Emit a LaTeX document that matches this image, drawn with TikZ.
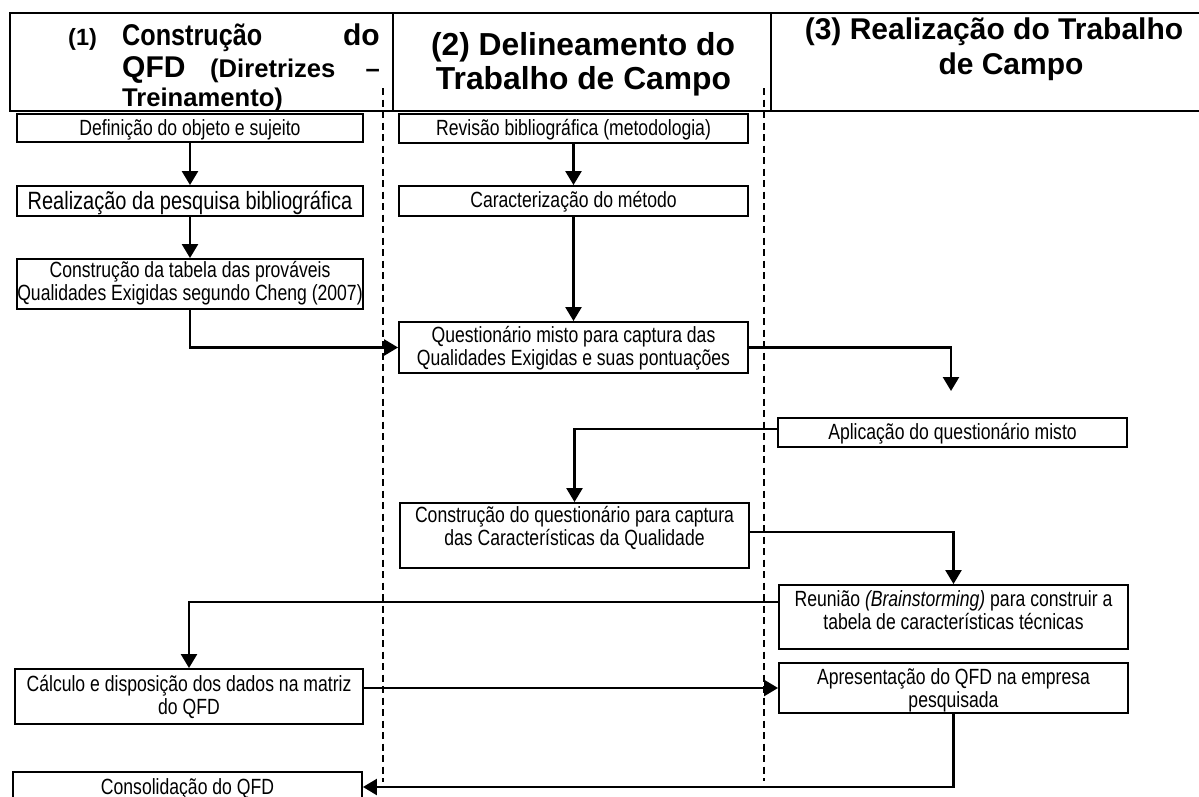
\documentclass[tikz,border=0pt]{standalone}
\usepackage{fontspec}
\setmainfont{Liberation Sans}
\newfontfamily\bodyf[FakeStretch=0.8]{Liberation Sans}
\newfontfamily\headf{Liberation Sans}
\usetikzlibrary{arrows.meta}
\begin{document}
\begin{tikzpicture}[x=1pt,y=-1pt,
  box/.style={draw, line width=1.9pt, inner sep=0pt},
  lbl/.style={anchor=north, inner sep=0pt, align=center, font=\bodyf\fontsize{22pt}{23.5pt}\selectfont},
  arr/.style={line width=2.4pt, -{Triangle[length=14pt,width=16pt]}},
  sepline/.style={line width=1.9pt, dash pattern=on 7pt off 4.5pt},
  hd/.style={inner sep=0pt, font=\headf\bfseries\fontsize{31.8pt}{35pt}\selectfont},
  hdc/.style={inner sep=0pt, font=\headf\bfseries\fontsize{30pt}{34pt}\selectfont},
  hds/.style={inner sep=0pt, font=\headf\bfseries\fontsize{25.6pt}{30pt}\selectfont},
  hdt/.style={inner sep=0pt, font=\headf\bfseries\fontsize{23.5pt}{28pt}\selectfont}]
\useasboundingbox (0,0) rectangle (1199,796);

% separators
\coordinate (s1a) at (383,88); \coordinate (s1b) at (383,782);
\coordinate (s2a) at (764,88); \coordinate (s2b) at (764,781);
\draw[sepline] (s1a) -- (s1b);
\draw[sepline] (s2a) -- (s2b);

% header
\draw[line width=2.6pt] (10,13) rectangle (1215,111);
\draw[line width=2.6pt] (393,13) -- (393,111);
\draw[line width=2.6pt] (771,13) -- (771,111);

\node[hdt, anchor=base west] (h1a) at (68,45) {(1)};
\node[hdc, anchor=base west] (h1b) at (122,45) {\scalebox{0.84}[1]{Construção}};
\node[hdc, anchor=base east] (h1c) at (380,45) {do};
\node[hdc, anchor=base west] (h1d) at (122,77) {QFD};
\node[hds, anchor=base west] (h1e) at (210,77) {(Diretrizes};
\node[hds, anchor=base east] (h1f) at (380,77) {–};
\node[hds, anchor=base west] (h1g) at (122,106) {Treinamento)};

\node[hd, anchor=base] (h2a) at (583,55) {(2) Delineamento do};
\node[hd, anchor=base] (h2b) at (583.5,89) {Trabalho de Campo};

\node[hdc, anchor=base] (h3a) at (994,39) {(3) Realização do Trabalho};
\node[hdc, anchor=base] (h3b) at (1011,74) {de Campo};

% boxes
\node[box, minimum width=346pt, minimum height=28pt] (A) at (190,128) {};
\node[lbl] (tA) at ([yshift=-6pt]A.north) {Definição do objeto e sujeito};

\node[box, minimum width=346pt, minimum height=30pt] (B) at (190,201) {};
\node[lbl, font=\bodyf\fontsize{25pt}{27pt}\selectfont] (tB) at ([yshift=-5.5pt]B.north) {Realização da pesquisa bibliográfica};

\node[box, minimum width=346pt, minimum height=50pt] (C) at (190,284) {};
\node[lbl] (tC) at ([yshift=-3pt]C.north) {Construção da tabela das prováveis\\Qualidades Exigidas segundo Cheng (2007)};

\node[box, minimum width=349pt, minimum height=29pt] (D) at (573.5,128.5) {};
\node[lbl] (tD) at ([yshift=-6pt]D.north) {Revisão bibliográfica (metodologia)};

\node[box, minimum width=349pt, minimum height=30pt] (E) at (573.5,201) {};
\node[lbl] (tE) at ([yshift=-6pt]E.north) {Caracterização do método};

\node[box, minimum width=349pt, minimum height=51pt] (Q1) at (573.5,347.5) {};
\node[lbl] (tQ1) at ([yshift=-5pt]Q1.north) {Questionário misto para captura das\\Qualidades Exigidas e suas pontuações};

\node[box, minimum width=349pt, minimum height=29pt] (AP) at (952.5,432.5) {};
\node[lbl] (tAP) at ([yshift=-6pt]AP.north) {Aplicação do questionário misto};

\node[box, minimum width=349pt, minimum height=65pt] (Q2) at (574.5,535.5) {};
\node[lbl] (tQ2) at ([yshift=-4pt]Q2.north) {Construção do questionário para captura\\das Características da Qualidade};

\node[box, minimum width=349pt, minimum height=64pt] (R) at (953.5,617) {};
\node[lbl] (tR) at ([yshift=-6pt]R.north) {Reunião \textit{(Brainstorming)} para construir a\\tabela de características técnicas};

\node[box, minimum width=349pt, minimum height=50pt] (APR) at (953.5,688) {};
\node[lbl] (tAPR) at ([yshift=-6pt]APR.north) {Apresentação do QFD na empresa\\pesquisada};

\node[box, minimum width=348pt, minimum height=55pt] (CA) at (189,696.5) {};
\node[lbl] (tCA) at ([yshift=-7pt]CA.north) {Cálculo e disposição dos dados na matriz\\do QFD};

\node[box, minimum width=349pt, minimum height=30pt] (CO) at (187.5,787) {};
\node[lbl] (tCO) at ([yshift=-7pt]CO.north) {Consolidação do QFD};

% connectors
\coordinate (q1end) at (951,391);
\draw[arr] (A.south) -- (B.north);
\draw[arr] (B.south) -- (C.north);
\draw[arr] (C.south) |- (Q1.west);
\draw[arr] (D.south) -- (E.north);
\draw[arr] (E.south) -- (Q1.north);
\draw[arr] (Q1.east) -| (q1end);
\draw[arr] ([yshift=3.5pt]AP.west) -| (Q2.north);
\draw[arr] ([yshift=3.5pt]Q2.east) -| (R.north);
\draw[arr] ([yshift=15pt]R.west) -| (CA.north);
\draw[arr] (CA.east |- APR.west) -- (APR.west);
\draw[arr] (APR.south) |- (CO.east);
\end{tikzpicture}
\end{document}
